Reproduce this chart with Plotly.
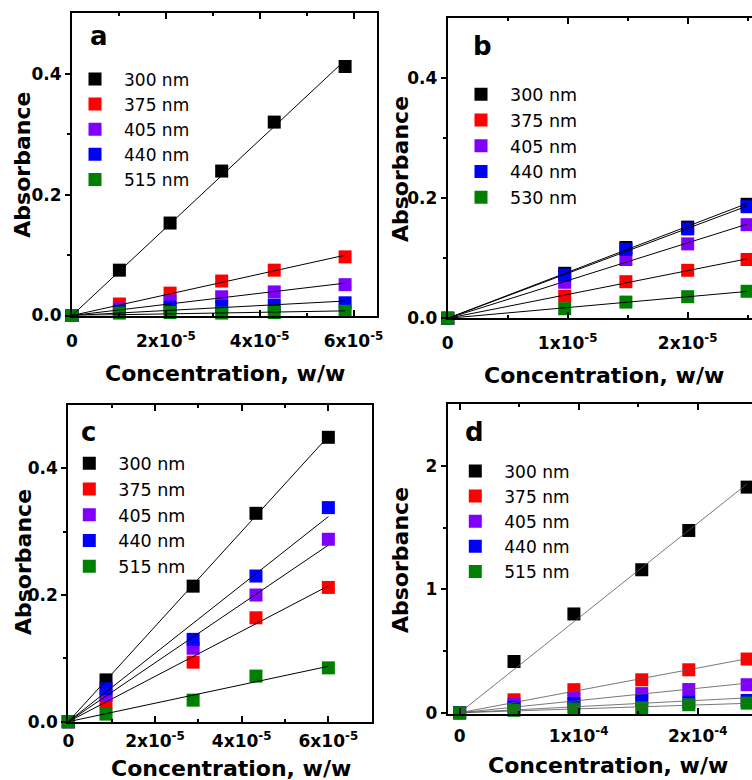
import plotly.graph_objects as go

W, H = 752, 780
FONT = "DejaVu Sans"
COLORS = ["#000000", "#FF0000", "#8000FF", "#0000FF", "#008000"]

# ---- panel a ----
conc_a = [0, 1.01e-5, 2.09e-5, 3.19e-5, 4.31e-5, 5.82e-5]
abs_a_300 = [0, 0.075, 0.153, 0.239, 0.320, 0.412]
abs_a_375 = [0, 0.019, 0.037, 0.057, 0.075, 0.097]
abs_a_405 = [0, 0.011, 0.024, 0.031, 0.039, 0.051]
abs_a_440 = [0, 0.007, 0.014, 0.015, 0.017, 0.021]
abs_a_515 = [0, 0.004, 0.005, 0.004, 0.005, 0.007]
names_a = ["300 nm", "375 nm", "405 nm", "440 nm", "515 nm"]

# ---- panel b ----
conc_b = [0, 0.975e-5, 1.485e-5, 2.0e-5, 2.495e-5]
abs_b_300 = [0, 0.075, 0.118, 0.152, 0.190]
abs_b_375 = [0, 0.037, 0.061, 0.080, 0.098]
abs_b_405 = [0, 0.060, 0.098, 0.124, 0.156]
abs_b_440 = [0, 0.072, 0.115, 0.149, 0.186]
abs_b_530 = [0, 0.016, 0.027, 0.036, 0.045]
names_b = ["300 nm", "375 nm", "405 nm", "440 nm", "530 nm"]

# ---- panel c ----
conc_c = [0, 0.87e-5, 2.88e-5, 4.33e-5, 6.0e-5]
abs_c_300 = [0, 0.066, 0.214, 0.329, 0.449]
abs_c_375 = [0, 0.031, 0.094, 0.164, 0.212]
abs_c_405 = [0, 0.042, 0.116, 0.200, 0.288]
abs_c_440 = [0, 0.052, 0.130, 0.230, 0.338]
abs_c_515 = [0, 0.012, 0.034, 0.072, 0.085]
names_c = ["300 nm", "375 nm", "405 nm", "440 nm", "515 nm"]

# ---- panel d ----
conc_d = [0, 0.457e-4, 0.96e-4, 1.53e-4, 1.925e-4, 2.415e-4]
abs_d_300 = [0, 0.415, 0.800, 1.158, 1.476, 1.827]
abs_d_375 = [0, 0.105, 0.187, 0.267, 0.348, 0.435]
abs_d_405 = [0, 0.070, 0.115, 0.155, 0.188, 0.227]
abs_d_440 = [0, 0.045, 0.075, 0.100, 0.085, 0.100]
abs_d_515 = [0, 0.020, 0.030, 0.040, 0.065, 0.078]
names_d = ["300 nm", "375 nm", "405 nm", "440 nm", "515 nm"]

# tick labels
xt_a_vals = [0, 2e-5, 4e-5, 6e-5]
xt_a_text = ["0", "2x10<sup>-5</sup>", "4x10<sup>-5</sup>", "6x10<sup>-5</sup>"]
xt_b_vals = [0, 1e-5, 2e-5]
xt_b_text = ["0", "1x10<sup>-5</sup>", "2x10<sup>-5</sup>"]
xt_d_vals = [0, 1e-4, 2e-4]
xt_d_text = ["0", "1x10<sup>-4</sup>", "2x10<sup>-4</sup>"]
yt_vals = [0, 0.2, 0.4]
yt_text = ["0.0", "0.2", "0.4"]
yt_d_vals = [0, 1, 2]
yt_d_text = ["0", "1", "2"]

panels = [
    dict(letter="a", x=conc_a, ys=[abs_a_300, abs_a_375, abs_a_405, abs_a_440, abs_a_515],
         names=names_a, box=(72, 377, 13.3, 315.5), xr=[0, 6.5e-5], yr=[0, 0.5],
         xtv=xt_a_vals, xtt=xt_a_text, xminor=[1e-5, 3e-5, 5e-5], xstand=9,
         ytv=yt_vals, ytt=yt_text, yminor=[0.1, 0.3],
         letter_pos=(99, 36), ylab=(21.7, 165), xlab=(225, 373),
         leg=dict(mx=95, row1=79, fs=17), right_line=True,
         fit=dict(color="black", width=1)),
    dict(letter="b", x=conc_b, ys=[abs_b_300, abs_b_375, abs_b_405, abs_b_440, abs_b_530],
         names=names_b, box=(447.7, 752, 18.3, 318.3), xr=[0, 2.536e-5], yr=[0, 0.5],
         xtv=xt_b_vals, xtt=xt_b_text, xminor=[0.5e-5, 1.5e-5, 2.5e-5], xstand=8,
         ytv=yt_vals, ytt=yt_text, yminor=[0.1, 0.3],
         letter_pos=(482, 46), ylab=(400, 169), xlab=(604, 375),
         leg=dict(mx=481, row1=94.3, fs=17.5), right_line=False,
         fit=dict(color="black", width=1)),
    dict(letter="c", x=conc_c, ys=[abs_c_300, abs_c_375, abs_c_405, abs_c_440, abs_c_515],
         names=names_c, box=(68.3, 371.7, 405, 721.7), xr=[0, 7.0e-5], yr=[0, 0.5],
         xtv=xt_a_vals, xtt=xt_a_text, xminor=[1e-5, 3e-5, 5e-5], xstand=3,
         ytv=yt_vals, ytt=yt_text, yminor=[0.1, 0.3],
         letter_pos=(88, 432), ylab=(23.3, 561.7), xlab=(231, 768),
         leg=dict(mx=89.3, row1=463.3, fs=17.5), right_line=True,
         fit=dict(color="black", width=1)),
    dict(letter="d", x=conc_d, ys=[abs_d_300, abs_d_375, abs_d_405, abs_d_440, abs_d_515],
         names=names_d, box=(447.7, 752, 404, 714), xr=[-1e-5, 2.456e-4], yr=[-0.01, 2.5],
         xtv=xt_d_vals, xtt=xt_d_text, xminor=[0.5e-4, 1.5e-4, 2.5e-4], xstand=6,
         ytv=yt_d_vals, ytt=yt_d_text, yminor=[0.5, 1.5],
         letter_pos=(474, 432), ylab=(400, 560), xlab=(607.5, 765),
         leg=dict(mx=475.3, row1=471, fs=17), right_line=False,
         fit=dict(color="#555555", width=0.8)),
]


def px_x(v):
    return v / W


def px_y(v):
    return 1 - v / H


def fit_line(x, y):
    # least-squares slope through the origin
    sxy = sum(a * b for a, b in zip(x, y))
    sxx = sum(a * a for a in x)
    k = sxy / sxx
    xm = max(x)
    return [0, xm], [0, k * xm]


fig = go.Figure()
layout = dict(
    width=W, height=H, margin=dict(l=0, r=0, t=0, b=0, autoexpand=False),
    paper_bgcolor="white", plot_bgcolor="white",
    font=dict(family=FONT, color="black"),
    annotations=[],
)

ITEMW = 48
tick_font = dict(family=FONT, size=17, color="black", weight="bold")
title_font = dict(family=FONT, size=22, color="black", weight="bold")

for i, p in enumerate(panels, start=1):
    sfx = "" if i == 1 else str(i)
    xa, ya = "x" + sfx, "y" + sfx
    legname = "legend" + sfx
    L, R, T, B = p["box"]

    # markers (drawn first so the fit lines sit on top)
    for y, name, col in zip(p["ys"], p["names"], COLORS):
        fig.add_trace(go.Scatter(
            x=p["x"], y=y, mode="markers", name=name,
            marker=dict(symbol="square", size=13, color=col, line=dict(width=0)),
            xaxis=xa, yaxis=ya, legend=legname, cliponaxis=False,
        ))
    for y in p["ys"]:
        lx, ly = fit_line(p["x"], y)
        fig.add_trace(go.Scatter(
            x=lx, y=ly, mode="lines", showlegend=False, hoverinfo="skip",
            line=p["fit"], xaxis=xa, yaxis=ya, cliponaxis=True,
        ))

    layout["xaxis" + sfx] = dict(
        domain=[px_x(L), min(px_x(R), 1.0)], anchor=ya, range=p["xr"],
        showline=True, linewidth=2, linecolor="black", mirror="ticks",
        ticks="inside", ticklen=6, tickwidth=1.5, tickcolor="black",
        tickmode="array", tickvals=p["xtv"], ticktext=p["xtt"],
        tickfont=tick_font, ticklabelstandoff=p["xstand"], automargin=False,
        minor=dict(tickmode="array", tickvals=p["xminor"], ticks="inside",
                   ticklen=3, tickwidth=1.5, tickcolor="black"),
        showgrid=False, zeroline=False,
    )
    layout["yaxis" + sfx] = dict(
        domain=[px_y(B), px_y(T)], anchor=xa, range=p["yr"],
        showline=True, linewidth=2, linecolor="black", mirror=p["right_line"],
        ticks="outside", ticklen=5, tickwidth=1.5, tickcolor="black",
        tickmode="array", tickvals=p["ytv"], ticktext=p["ytt"],
        tickfont=tick_font, automargin=False,
        minor=dict(tickmode="array", tickvals=p["yminor"], ticks="outside",
                   ticklen=3, tickwidth=1.5, tickcolor="black"),
        showgrid=False, zeroline=False,
    )
    # right-hand axis carrying inward ticks only
    layout["yaxis" + str(i + 4)] = dict(
        overlaying=ya, side="right", anchor=xa, range=p["yr"],
        showline=False, showticklabels=False, automargin=False,
        ticks="inside", ticklen=6, tickwidth=1.5, tickcolor="black",
        tickmode="array", tickvals=p["ytv"],
        minor=dict(tickmode="array", tickvals=p["yminor"], ticks="inside",
                   ticklen=3, tickwidth=1.5, tickcolor="black"),
        showgrid=False, zeroline=False,
    )

    lg = p["leg"]
    row_h = 1.3 * lg["fs"] + 3
    layout[legname] = dict(
        x=px_x(lg["mx"] - ITEMW / 2 - 5), xanchor="left",
        y=px_y(lg["row1"] - row_h / 2 - 5), yanchor="top",
        bgcolor="rgba(0,0,0,0)", borderwidth=0,
        font=dict(family=FONT, size=lg["fs"], color="black"),
        itemwidth=ITEMW, tracegroupgap=0, itemclick=False,
    )

    lx, ly = p["letter_pos"]
    layout["annotations"].append(dict(
        text=p["letter"], x=px_x(lx), y=px_y(ly), xref="paper", yref="paper",
        xanchor="center", yanchor="middle", showarrow=False,
        font=dict(family=FONT, size=26, color="black", weight="bold")))
    yx, yy = p["ylab"]
    layout["annotations"].append(dict(
        text="Absorbance", x=px_x(yx), y=px_y(yy), xref="paper", yref="paper",
        xanchor="center", yanchor="middle", textangle=-90, showarrow=False,
        font=title_font))
    xx, xy = p["xlab"]
    layout["annotations"].append(dict(
        text="Concentration, w/w", x=px_x(xx), y=px_y(xy), xref="paper", yref="paper",
        xanchor="center", yanchor="middle", showarrow=False,
        font=title_font))

fig.update_layout(**layout)
fig.write_html("out.html")
